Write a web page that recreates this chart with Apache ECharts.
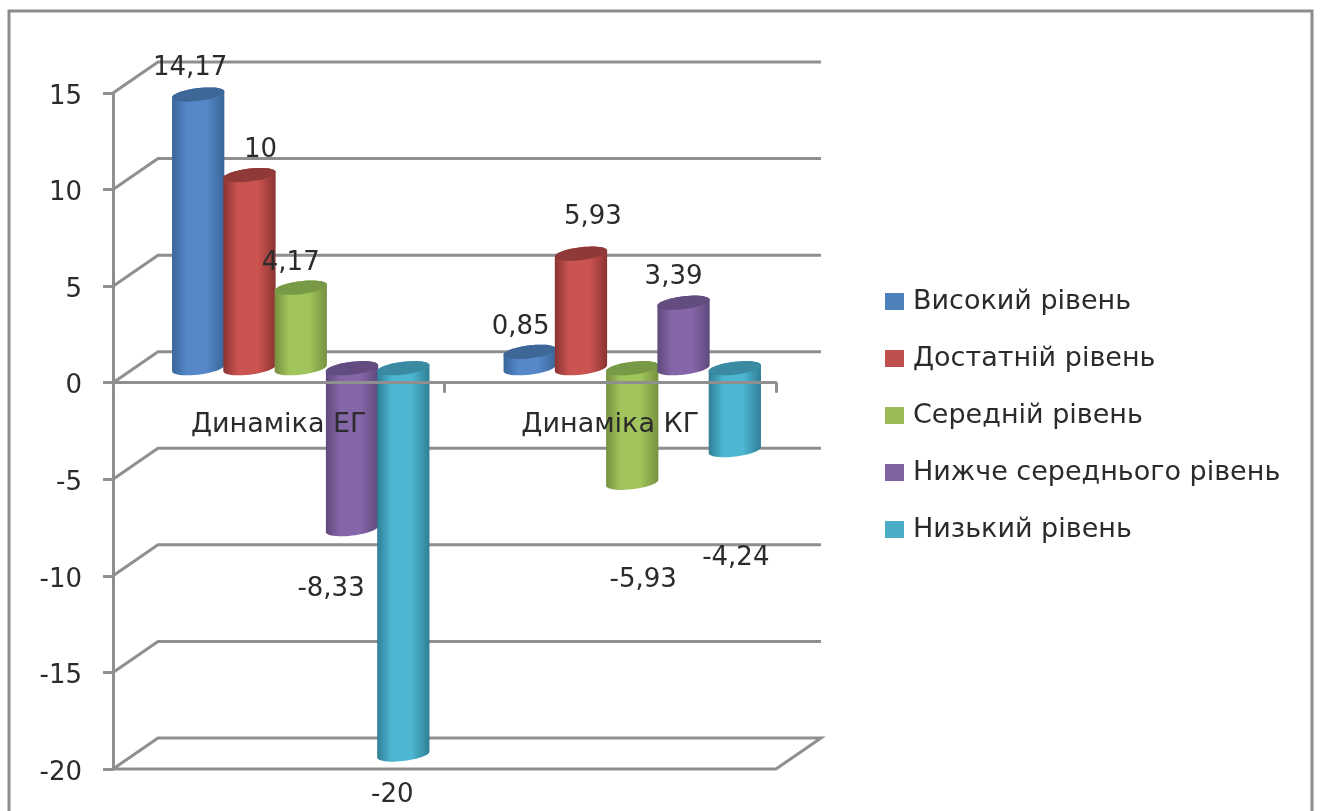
<!DOCTYPE html>
<html>
<head>
<meta charset="utf-8">
<style>html,body{margin:0;padding:0;background:#fff}#c{width:1320px;height:811px}</style>
<script src="https://cdn.jsdelivr.net/npm/echarts@6/dist/echarts.min.js"></script>
</head>
<body>
<div id="c"></div>
<script>
const categories = ['Динаміка ЕГ', 'Динаміка КГ'];
const seriesNames = ['Високий рівень', 'Достатній рівень', 'Середній рівень', 'Нижче середнього рівень', 'Низький рівень'];
const high = [14.17, 0.85];
const sufficient = [10, 5.93];
const medium = [4.17, -5.93];
const belowMedium = [-8.33, 3.39];
const low = [-20, -4.24];
const yTicks = [15, 10, 5, 0, -5, -10, -15, -20];

const seriesValues = [high, sufficient, medium, belowMedium, low];
const legendColors = ['#4f81bd', '#c0504d', '#9bbb59', '#8064a2', '#4bacc6'];
const midColors = ['#5587c9', '#cb5350', '#a1c45c', '#8566a9', '#4db6d1'];
const edgeColors = ['#3a6699', '#8b3432', '#769140', '#5f4a7c', '#2f7f96'];
const capColors = ['#3d6797', '#8f3a38', '#789a46', '#634d80', '#3a8aa1'];
// label nudges from each bar's end [dx, dy], by series then category
const labelNudges = [
  [[-8, -26], [-9, -25]],
  [[11, -25], [12, -36]],
  [[-10, -24], [11, 98]],
  [[-21, 60], [-10, -25]],
  [[-11, 41], [1, 108]]
];

const FONT = '"DejaVu Sans"';
const FS = 27;
const FS_NUM = 26;
const TEXT = '#2b2b2b';
const LINE = '#8f8f8f';
const WALL_DX = 45, WALL_DY = -31;
const BAR_DX = 22, BAR_DY = -14.5;
const BAR_SHARE = 0.1547;
const RY = 6.5, SKEW = 3;

function arc(cx, cy, rx, from, to, n) {
  const pts = [];
  for (let i = 0; i <= n; i++) {
    const t = from + (to - from) * i / n;
    pts.push([cx + rx * Math.cos(t), cy + RY * Math.sin(t) - SKEW * Math.cos(t)]);
  }
  return pts;
}

function wallItem(params, api) {
  const v = api.value(0);
  const band = api.size([1, 0])[0];
  const left = api.coord([0, v])[0] - band / 2;
  const right = left + band * categories.length;
  const y = api.coord([0, v])[1];
  const style = { stroke: LINE, lineWidth: 3, fill: null };
  const pts = [[left, y], [left + WALL_DX, y + WALL_DY], [right + WALL_DX, y + WALL_DY]];
  if (v === yTicks[yTicks.length - 1]) {
    pts.push([right, y], [left, y]);
  }
  return { type: 'polyline', shape: { points: pts }, style: style, silent: true };
}

function barItem(s) {
  return function (params, api) {
    const idx = api.value(0), v = api.value(1);
    const band = api.size([1, 0])[0];
    const w = band * BAR_SHARE;
    const cx = api.coord([idx, 0])[0] + BAR_DX + (s - 2) * w;
    const yZero = api.coord([idx, 0])[1] + BAR_DY;
    const yEnd = api.coord([idx, v])[1] + BAR_DY;
    const top = Math.min(yZero, yEnd), bot = Math.max(yZero, yEnd);
    const rx = w / 2 + 0.5;
    const body = arc(cx, top, rx, Math.PI, 2 * Math.PI, 24).concat(arc(cx, bot, rx, 0, Math.PI, 24));
    const cap = arc(cx, top, rx, 0, 2 * Math.PI, 48);
    const grad = {
      type: 'linear', x: 0, y: 0, x2: 1, y2: 0,
      colorStops: [
        { offset: 0, color: edgeColors[s] },
        { offset: 0.28, color: midColors[s] },
        { offset: 0.66, color: midColors[s] },
        { offset: 1, color: edgeColors[s] }
      ]
    };
    const nudge = labelNudges[s][idx];
    return {
      type: 'group',
      children: [
        { type: 'polygon', shape: { points: body }, style: { fill: grad } },
        { type: 'polygon', shape: { points: cap }, style: { fill: capColors[s] } },
        {
          type: 'text', z2: 100, silent: true,
          style: {
            x: cx + nudge[0], y: yEnd + nudge[1],
            text: String(v).replace('.', ','),
            fill: TEXT, font: FS_NUM + 'px ' + FONT, align: 'center', verticalAlign: 'middle'
          }
        }
      ]
    };
  };
}

const chart = echarts.init(document.getElementById('c'));
chart.setOption({
  animation: false,
  backgroundColor: '#fff',
  textStyle: { fontFamily: FONT },
  grid: { left: 113, right: 544, top: 93, bottom: 42, containLabel: false, outerBoundsMode: 'none' },
  graphic: [{
    type: 'rect', silent: true, z: -1,
    shape: { x: 9, y: 11, width: 1303, height: 840 },
    style: { fill: null, stroke: '#8c8c8c', lineWidth: 3, lineJoin: 'miter' }
  }],
  legend: {
    orient: 'vertical', left: 885, top: 288, padding: 0,
    itemWidth: 19, itemHeight: 17, itemGap: 30,
    icon: 'rect',
    data: seriesNames.map((n, i) => ({ name: n, itemStyle: { color: legendColors[i] } })),
    textStyle: { fontSize: FS, fontFamily: FONT, color: TEXT, padding: [0, 0, 0, 4] }
  },
  xAxis: {
    type: 'category', data: categories, z: 10,
    axisLine: { onZero: true, lineStyle: { color: LINE, width: 3 } },
    axisTick: { show: true, length: 10, alignWithLabel: false, lineStyle: { color: LINE, width: 3 } },
    axisLabel: { color: TEXT, fontSize: FS, fontFamily: FONT, margin: -358 },
    splitLine: { show: false }
  },
  yAxis: {
    type: 'value', min: -20, max: 15, interval: 5, z: 10,
    axisLine: { show: true, lineStyle: { color: LINE, width: 3 } },
    axisTick: { show: true, length: 10, lineStyle: { color: LINE, width: 3 } },
    axisLabel: {
      margin: 31,
      formatter: v => '{a|' + v + '}',
      rich: { a: { color: TEXT, fontSize: FS_NUM, fontFamily: FONT, padding: [8, 0, 0, 0] } }
    },
    splitLine: { show: false }
  },
  series: [{
    type: 'custom', name: 'wall', z: 1, silent: true, renderItem: wallItem,
    encode: { y: 0 }, data: yTicks.map(v => [v])
  }].concat(seriesValues.map((vals, s) => ({
    type: 'custom', name: seriesNames[s], z: 2,
    itemStyle: { color: legendColors[s] },
    renderItem: barItem(s),
    encode: { x: 0, y: 1 },
    data: vals.map((v, i) => [i, v])
  })))
});
</script>
</body>
</html>
